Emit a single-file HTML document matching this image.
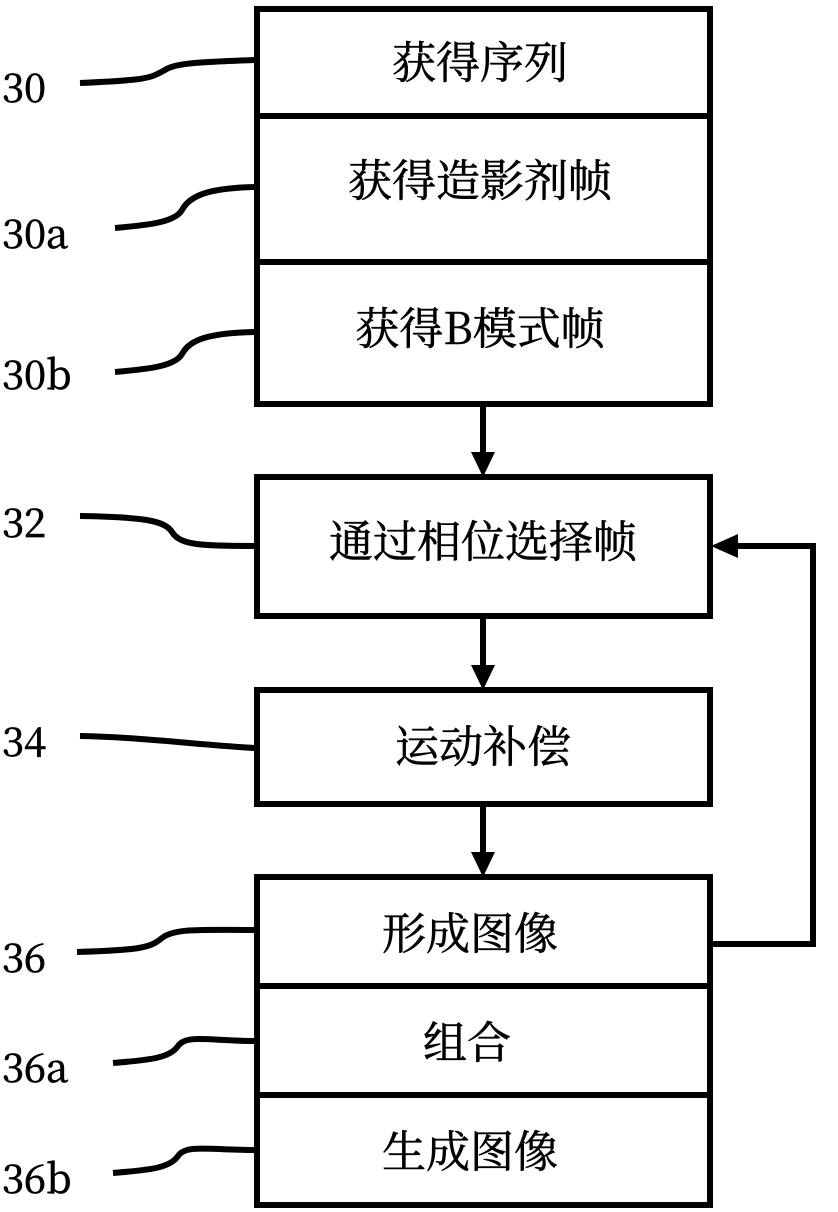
<!DOCTYPE html>
<html><head><meta charset="utf-8"><style>
html,body{margin:0;padding:0;background:#fff;width:838px;height:1212px;overflow:hidden}
svg text{font-family:"Noto Serif CJK SC","Noto Sans CJK SC",serif}
.lbl{font-family:"Liberation Serif",serif;font-size:40px}
</style></head><body>
<svg width="838" height="1212" viewBox="0 0 838 1212" xmlns="http://www.w3.org/2000/svg">
<g fill="none" stroke="#000" stroke-width="6">
<rect x="257" y="9" width="453" height="395"/>
<line x1="257" y1="116" x2="710" y2="116"/>
<line x1="257" y1="262" x2="710" y2="262"/>
<rect x="257" y="477" width="453" height="139"/>
<rect x="257" y="690" width="453" height="114"/>
<rect x="257" y="877" width="453" height="328"/>
<line x1="257" y1="986" x2="710" y2="986"/>
<line x1="257" y1="1095" x2="710" y2="1095"/>
<line x1="483" y1="404" x2="483" y2="455"/>
<line x1="483" y1="616" x2="483" y2="668"/>
<line x1="483" y1="804" x2="483" y2="855"/>
<polyline points="710,944 813,944 813,546 735,546"/>
<path d="M80,83 C150,80 150,78 165,70 C175,63 200,62 255,60"/>
<path d="M115,228 C150,225 175,222 182,210 C190,195 210,188 255,187"/>
<path d="M115,372 C150,369 175,366 182,354 C190,339 210,333 255,332"/>
<path d="M80,516 C140,517 165,520 172,532 C180,545 200,546 255,546"/>
<path d="M80,736 C140,737 200,745 255,748"/>
<path d="M77,952 C140,950 150,948 162,938 C175,928 200,930 255,930"/>
<path d="M113,1063 C150,1060 170,1058 178,1046 C186,1034 210,1041 255,1041"/>
<path d="M113,1173 C150,1170 170,1168 178,1156 C186,1144 210,1150 255,1150"/>
</g>
<g fill="#000">
<polygon points="471,452 495,452 483,477"/>
<polygon points="471,665 495,665 483,690"/>
<polygon points="471,852 495,852 483,877"/>
<polygon points="711,546 738,534 738,558"/>
</g>
<g font-size="44" text-anchor="middle" fill="#000" stroke="#000" stroke-width="0.6">
<text x="480" y="78">获得序列</text>
<text x="480" y="196">获得造影剂帧</text>
<text x="480" y="344">获得B模式帧</text>
<text x="483" y="557">通过相位选择帧</text>
<text x="483" y="762">运动补偿</text>
<text x="470" y="949">形成图像</text>
<text x="467" y="1058">组合</text>
<text x="470" y="1167">生成图像</text>
</g>
<g class="lbl" fill="#000" stroke="#000" stroke-width="0.8">
<text x="2" y="102">30</text>
<text x="2" y="248">30a</text>
<text x="2" y="389">30b</text>
<text x="2" y="537">32</text>
<text x="2" y="756">34</text>
<text x="2" y="972">36</text>
<text x="2" y="1082">36a</text>
<text x="2" y="1193">36b</text>
</g>
</svg>
</body></html>
